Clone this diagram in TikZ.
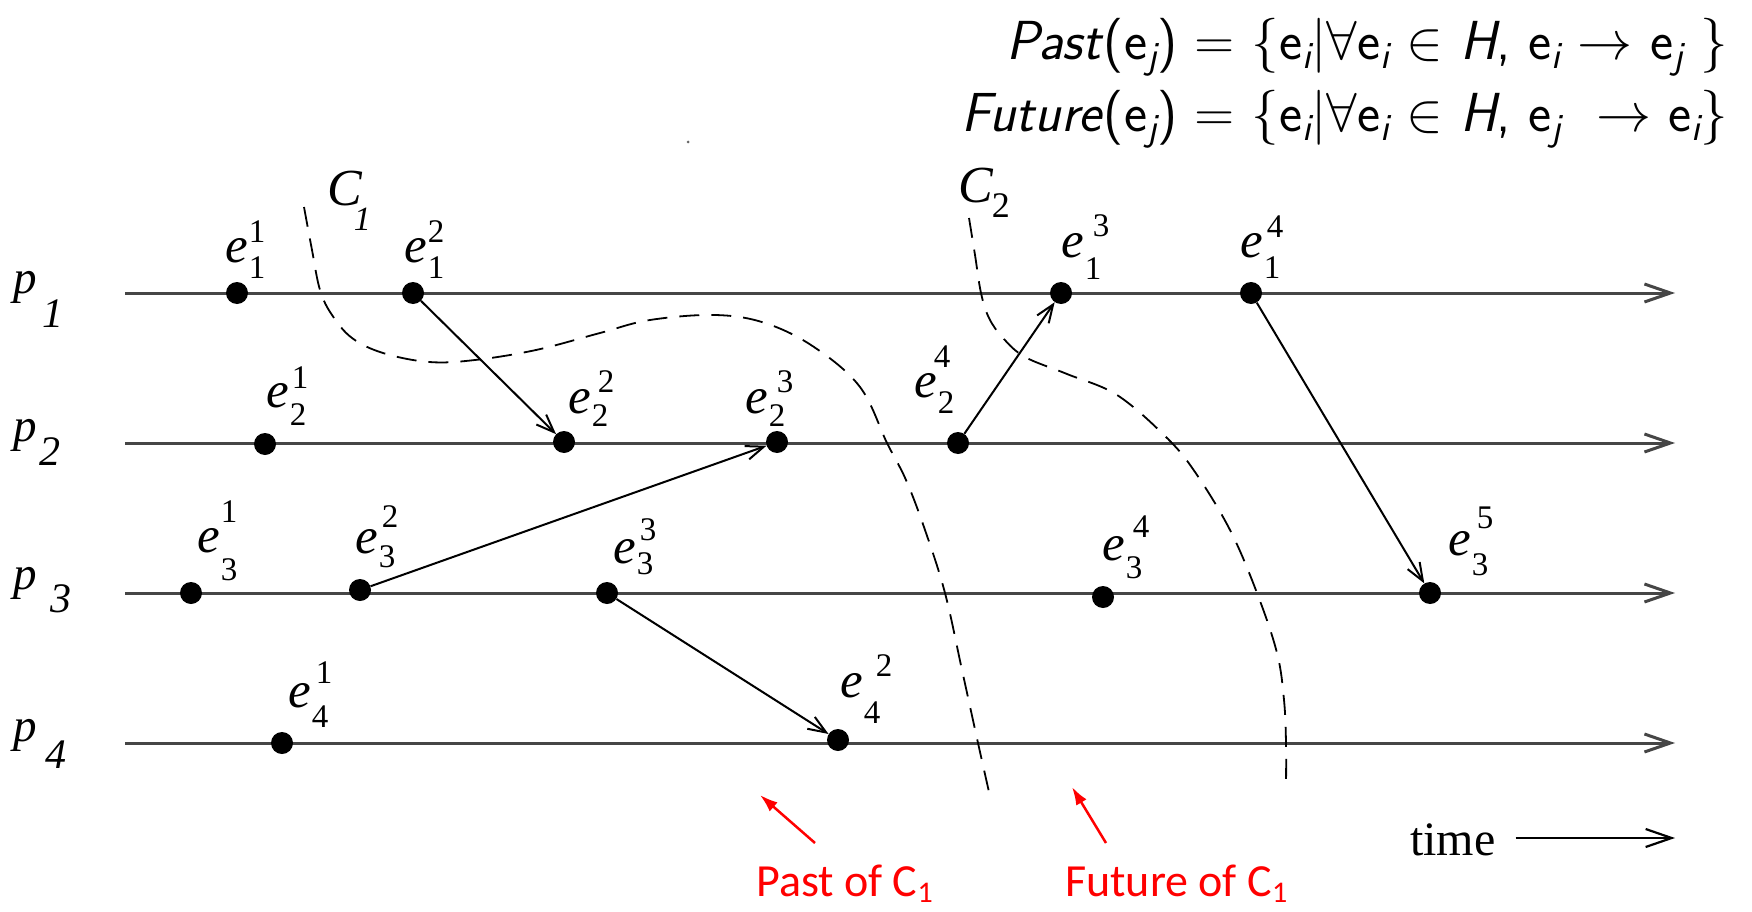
\documentclass[tikz,border=0pt]{standalone}
\usepackage{fontspec}
\setmainfont{Liberation Serif}
\newfontfamily\calib{Carlito}
\DeclareFontFamily{OMS}{cmsy}{\skewchar\font48 }
\DeclareFontShape{OMS}{cmsy}{m}{n}{<->cmsy10}{}
\usetikzlibrary{arrows.meta}
\definecolor{procgray}{RGB}{70,70,70}
\definecolor{labred}{RGB}{255,0,0}
\newcommand{\ev}[5]{{\fontsize{51}{51}\selectfont\itshape e}\kern1pt\rlap{\hspace{#5pt}\raisebox{#3pt}{\fontsize{33}{33}\selectfont #2}}\raisebox{-#4pt}{\fontsize{33}{33}\selectfont #1}}
\newcommand{\fsub}[1]{\textsubscript{\itshape #1}}
\newcommand{\plab}[3]{{\fontsize{47}{47}\selectfont\itshape p}\hspace{#2pt}\raisebox{-#3pt}{\fontsize{42}{42}\selectfont\itshape #1}}
\tikzset{
  proc/.style={line width=3pt, draw=procgray, -{Straight Barb[length=26pt,width=18pt]}},
  msg/.style={line width=2pt, -{Straight Barb[length=18pt,width=14pt]}},
  cut/.style={line width=1.8pt, dash pattern=on 20pt off 12pt},
  evdot/.style={circle, fill=black, inner sep=0pt, minimum size=22pt},
  evlab/.style={anchor=base west, inner sep=0pt},
  redarrow/.style={draw=labred, line width=2.5pt, -{Latex[length=18pt,width=12pt]}},
  redlab/.style={text=labred, anchor=base west, inner sep=0pt, font=\calib\fontsize{46}{46}\selectfont},
  formula/.style={anchor=base east, inner sep=0pt, font=\sffamily\fontsize{55}{55}\selectfont},
}
\begin{document}
\begin{tikzpicture}[x=1pt,y=-1pt]
\useasboundingbox (0,0) rectangle (1752,912);
% formulas
\node[formula] (f1) at (1728,60) {\textit{Past}(e\fsub{j}) = $\{$e\fsub{i}$|\forall$e\fsub{i} $\in$ \textit{H}, e\fsub{i} $\rightarrow$ e\fsub{j} $\}$};
\node[formula] (f2) at (1728,132) {\textit{Future}(e\fsub{j}) = $\{$e\fsub{i}$|\forall$e\fsub{i} $\in$ \textit{H}, e\fsub{j}\ \ $\rightarrow$ e\fsub{i}$\}$};
\fill[black!60] (688,142) circle (1.5pt);
% process labels
\node[evlab] (p1) at (13,293) {\plab{1}{6}{34}};
\node[evlab] (p2) at (13,441) {\plab{2}{3}{24}};
\node[evlab] (p3) at (13,589) {\plab{3}{14}{23}};
\node[evlab] (p4) at (13,741) {\plab{4}{9}{27}};
% process lines
\coordinate (s1) at (125,293); \coordinate (t1) at (1675,293);
\coordinate (s2) at (125,443); \coordinate (t2) at (1675,443);
\coordinate (s3) at (125,593); \coordinate (t3) at (1675,593);
\coordinate (s4) at (125,743); \coordinate (t4) at (1675,743);
\draw[proc] (s1) -- (t1);
\draw[proc] (s2) -- (t2);
\draw[proc] (s3) -- (t3);
\draw[proc] (s4) -- (t4);
% cuts
\draw[cut] plot[smooth, tension=0.6] coordinates {(304,207) (312,250) (320,290) (332,315) (352,338) (383,353) (429,362) (475,360) (536,350) (600,333) (650,320) (715,315) (765,323) (814,347) (860,387) (887,443) (906,480) (925,530) (945,593) (962,670) (978,743) (989,792)};
\draw[cut] plot[smooth, tension=0.6] coordinates {(969,218) (975,255) (981,293) (989,318) (1003,338) (1025,357) (1067,374) (1117,395) (1166,437) (1195,472) (1230,530) (1257,593) (1277,653) (1284,700) (1286,743) (1286,785)};
\node[anchor=base west, inner sep=0pt] (c1) at (327,205) {\fontsize{52}{52}\selectfont\itshape C\kern-8pt\raisebox{-25pt}{\fontsize{34}{34}\selectfont 1}};
\node[anchor=base west, inner sep=0pt] (c2) at (958,202) {\fontsize{52}{52}\selectfont\itshape C\kern-1pt\raisebox{-15pt}{\fontsize{36}{36}\selectfont\upshape 2}};
% events
\node[evdot] (e11) at (237,293) {};
\node[evdot] (e12) at (413,293) {};
\node[evdot] (e13) at (1061,293) {};
\node[evdot] (e14) at (1251,293) {};
\node[evdot] (e21) at (265,444) {};
\node[evdot] (e22) at (564,442) {};
\node[evdot] (e23) at (777,442) {};
\node[evdot] (e24) at (958,443) {};
\node[evdot] (e31) at (191,593) {};
\node[evdot] (e32) at (360,590) {};
\node[evdot] (e33) at (607,593) {};
\node[evdot] (e34) at (1103,597) {};
\node[evdot] (e35) at (1430,593) {};
\node[evdot] (e41) at (282,743) {};
\node[evdot] (e42) at (838,740) {};
% event labels
\node[evlab] (l11) at (225,262) {\ev{1}{1}{20}{16}{0}};
\node[evlab] (l12) at (404,262) {\ev{1}{2}{20}{16}{0}};
\node[evlab] (l13) at (1061,257) {\ev{1}{3}{21}{22}{8}};
\node[evlab] (l14) at (1240,257) {\ev{1}{4}{20}{21}{3}};
\node[evlab] (l21) at (266,407) {\ev{2}{1}{19}{18}{2}};
\node[evlab] (l22) at (568,413) {\ev{2}{2}{21}{13}{6}};
\node[evlab] (l23) at (745,413) {\ev{2}{3}{21}{13}{8}};
\node[evlab] (l24) at (914,397) {\ev{2}{4}{30}{16}{-4}};
\node[evlab] (l31) at (197,552) {\ev{3}{1}{30}{28}{0}};
\node[evlab] (l32) at (355,553) {\ev{3}{2}{26}{14}{3}};
\node[evlab] (l33) at (613,563) {\ev{3}{3}{23}{11}{3}};
\node[evlab] (l34) at (1102,560) {\ev{3}{4}{23}{18}{7}};
\node[evlab] (l35) at (1448,555) {\ev{3}{5}{27}{20}{5}};
\node[evlab] (l41) at (288,707) {\ev{4}{1}{24}{20}{4}};
\node[evlab] (l42) at (840,697) {\ev{4}{2}{21}{26}{12}};
% messages
\draw[msg] (e12) -- (e22);
\draw[msg] (e32) -- (e23);
\draw[msg] (e24) -- (e13);
\draw[msg] (e33) -- (e42);
\draw[msg] (e14) -- (e35);
% time
\node[anchor=base west, inner sep=0pt, font=\fontsize{48}{48}\selectfont] (time) at (1410,855) {time};
\coordinate (tend) at (1675,838);
\draw[line width=2.2pt, -{Straight Barb[length=26pt,width=18pt]}] ([xshift=20pt]time.east |- tend) -- (tend);
% red annotations
\node[redlab] (past) at (756,896) {Past of C\raisebox{-6pt}{\fontsize{30}{30}\selectfont 1}};
\node[redlab] (future) at (1065,896) {Future of C\raisebox{-6pt}{\fontsize{30}{30}\selectfont 1}};
\coordinate (pasttail) at (815,843); \coordinate (pasttip) at (760,795);
\coordinate (futtail) at (1106,843); \coordinate (futtip) at (1072,787);
\draw[redarrow] (pasttail) -- (pasttip);
\draw[redarrow] (futtail) -- (futtip);
\end{tikzpicture}
\end{document}
